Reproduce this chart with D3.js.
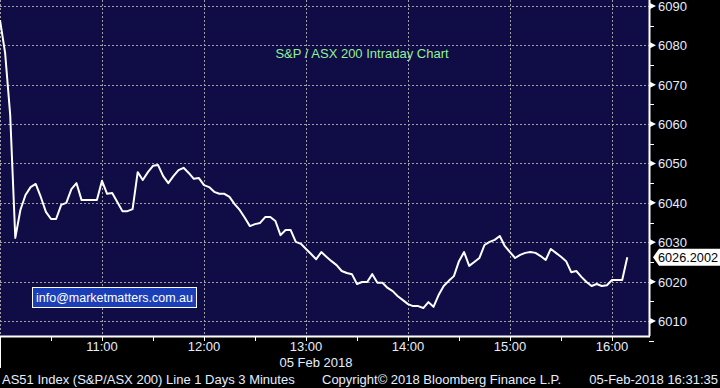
<!DOCTYPE html>
<head>
  <meta charset="utf-8">
  <script src="https://d3js.org/d3.v7.min.js"></script>
  <style>
    body { margin: 0; background: #000; }
    text { font-family: "Liberation Sans", Arial, sans-serif; }
    .grid line { stroke: #a09ea0; stroke-width: 1px; stroke-dasharray: 2,2; }
  </style>
</head>

<body>
  <script>
    // AS51 intraday, 3 minute bars from 10:00
    var startTime = "10:00";
    var intervalMinutes = 3;
    var prices = [
      6086.4, 6078.1, 6062.3, 6031.1, 6038.2, 6042.0, 6044.0, 6044.8, 6041.5, 6037.7,
      6035.9, 6035.9, 6039.5, 6040.0, 6043.5, 6045.0, 6040.7, 6040.7, 6040.7, 6040.7,
      6045.6, 6042.3, 6042.5, 6040.2, 6037.9, 6037.9, 6038.4, 6047.8, 6045.8, 6047.8,
      6049.4, 6049.6, 6046.8, 6045.0, 6046.8, 6048.3, 6048.9, 6047.6, 6046.1, 6046.3,
      6044.5, 6044.0, 6042.8, 6042.3, 6042.3, 6041.5, 6039.7, 6038.2, 6036.2, 6034.1,
      6034.6, 6034.9, 6036.4, 6036.4, 6035.4, 6031.8, 6033.1, 6033.1, 6030.1, 6029.6,
      6028.3, 6027.0, 6025.7, 6027.5, 6026.3, 6025.2, 6024.2, 6022.7, 6022.2, 6021.9,
      6019.4, 6019.9, 6019.9, 6021.9, 6019.7, 6019.7, 6018.4, 6017.6, 6016.3, 6015.3,
      6014.3, 6013.8, 6013.8, 6013.3, 6014.8, 6013.6, 6016.6, 6018.9, 6020.2, 6021.4,
      6025.2, 6027.5, 6024.0, 6025.0, 6026.0, 6029.3, 6030.1, 6030.6, 6031.6, 6029.0,
      6027.5, 6026.0, 6026.8, 6027.3, 6027.5, 6027.3, 6026.5, 6025.5, 6028.3, 6027.3,
      6026.3, 6025.2, 6022.4, 6022.7, 6021.2, 6019.9, 6018.9, 6019.4, 6018.9, 6019.1,
      6020.4, 6020.4, 6020.4, 6026.2002
    ];
    var lastValue = "6026.2002";
    var yTicks = [6010, 6020, 6030, 6040, 6050, 6060, 6070, 6080, 6090];
    var xTickLabels = ["11:00", "12:00", "13:00", "14:00", "15:00", "16:00"];
    var title = "S&P / ASX 200 Intraday Chart";
    var dateLabel = "05 Feb 2018";
    var legendText = "info@marketmatters.com.au";
    var footer = ["AS51 Index (S&P/ASX 200) Line 1 Days 3 Minutes",
                  "Copyright\u00a9 2018 Bloomberg Finance L.P.",
                  "05-Feb-2018 16:31:35"];

    var W = 720, H = 388;
    var plotW = 649, plotH = 336;

    var svg = d3.select("body").append("svg")
      .attr("width", W)
      .attr("height", H);

    var parseTime = d3.timeParse("%H:%M");
    var t0 = parseTime(startTime);
    var data = prices.map(function(v, i) {
      return { date: d3.timeMinute.offset(t0, i * intervalMinutes), value: v };
    });

    var x = d3.scaleTime()
      .domain([t0, d3.timeSecond.offset(t0, 6 * 3600 + 21 * 60 + 46)])
      .range([0, plotW]);

    var y = d3.scaleLinear()
      .domain([6006.2, 6091.5])
      .range([plotH, 0]);

    svg.append("rect")
      .attr("width", plotW).attr("height", plotH)
      .attr("fill", "#0f0c46");

    var hourTicks = xTickLabels.map(parseTime);
    var halfTicks = d3.timeMinute.every(30).range(t0, x.domain()[1]);

    // grid
    var grid = svg.append("g").attr("class", "grid");
    grid.selectAll(".hg").data(yTicks).enter().append("line")
      .attr("x1", 0).attr("x2", plotW)
      .attr("y1", function(d) { return Math.round(y(d)) + 0.5; })
      .attr("y2", function(d) { return Math.round(y(d)) + 0.5; });
    grid.selectAll(".vg").data([t0].concat(hourTicks)).enter().append("line")
      .attr("y1", 0).attr("y2", plotH)
      .attr("x1", function(d) { return Math.round(x(d)) + 0.5; })
      .attr("x2", function(d) { return Math.round(x(d)) + 0.5; });

    // title
    svg.append("text")
      .attr("x", 362).attr("y", 58)
      .attr("text-anchor", "middle")
      .attr("fill", "#94f294")
      .style("font-size", "13px")
      .text(title);

    // price line
    var line = d3.line()
      .x(function(d) { return x(d.date); })
      .y(function(d) { return y(d.value); });

    svg.append("path").datum(data)
      .attr("fill", "none")
      .attr("stroke", "#ffffff")
      .attr("stroke-width", 2)
      .attr("stroke-linejoin", "round")
      .attr("d", line);

    // legend box
    svg.append("rect")
      .attr("x", 32.5).attr("y", 287.5)
      .attr("width", 164).attr("height", 20)
      .attr("fill", "#1b3fb8")
      .attr("stroke", "#ffffff").attr("stroke-width", 1);
    svg.append("text")
      .attr("x", 36).attr("y", 302)
      .attr("fill", "#ffffff")
      .style("font-size", "12.5px")
      .attr("textLength", 157)
      .attr("lengthAdjust", "spacingAndGlyphs")
      .text(legendText);

    // right axis
    var ya = svg.append("g");
    ya.append("line")
      .attr("x1", plotW + 0.5).attr("x2", plotW + 0.5)
      .attr("y1", 0).attr("y2", plotH)
      .attr("stroke", "#fff").attr("stroke-width", 2);
    var minor = d3.range(6005, 6095, 10);
    ya.selectAll(".mt").data(minor).enter().append("line")
      .attr("x1", plotW).attr("x2", plotW + 5)
      .attr("y1", function(d) { return Math.round(y(d)) + 0.5; })
      .attr("y2", function(d) { return Math.round(y(d)) + 0.5; })
      .attr("stroke", "#fff");
    ya.selectAll(".tri").data(yTicks).enter().append("path")
      .attr("d", function(d) {
        var yy = y(d);
        return "M" + plotW + "," + (yy - 3.5) + "L" + (plotW + 7) + "," + yy + "L" + plotW + "," + (yy + 3.5) + "Z";
      })
      .attr("fill", "#fff");
    ya.selectAll(".yl").data(yTicks).enter().append("text")
      .attr("x", 658)
      .attr("y", function(d) { return y(d) + 5; })
      .attr("fill", "#e6eeff")
      .style("font-size", "13px")
      .text(function(d) { return d; });

    // last value badge
    var ly = y(+lastValue);
    svg.append("path")
      .attr("d", "M653," + ly + "L659," + (ly - 8.5) + "L720," + (ly - 8.5) + "L720," + (ly + 8.5) + "L659," + (ly + 8.5) + "Z")
      .attr("fill", "#ffffff");
    svg.append("text")
      .attr("x", 658).attr("y", ly + 5)
      .attr("fill", "#000")
      .style("font-size", "13px")
      .attr("textLength", 60)
      .attr("lengthAdjust", "spacingAndGlyphs")
      .text(lastValue);

    // bottom axis
    var xa = svg.append("g");
    xa.append("line")
      .attr("x1", 0).attr("x2", plotW + 1)
      .attr("y1", plotH + 0.5).attr("y2", plotH + 0.5)
      .attr("stroke", "#fff").attr("stroke-width", 2);
    xa.append("line")
      .attr("x1", 0.5).attr("x2", 0.5)
      .attr("y1", plotH).attr("y2", 368)
      .attr("stroke", "#fff");
    xa.selectAll(".xt").data(halfTicks).enter().append("line")
      .attr("x1", function(d) { return Math.round(x(d)) + 0.5; })
      .attr("x2", function(d) { return Math.round(x(d)) + 0.5; })
      .attr("y1", plotH).attr("y2", plotH + 5)
      .attr("stroke", "#fff");
    xa.selectAll(".xl").data(hourTicks).enter().append("text")
      .attr("x", function(d) { return x(d); })
      .attr("y", 351)
      .attr("text-anchor", "middle")
      .attr("fill", "#e6eeff")
      .style("font-size", "13px")
      .text(function(d, i) { return xTickLabels[i]; });
    xa.append("text")
      .attr("x", 316).attr("y", 367)
      .attr("text-anchor", "middle")
      .attr("fill", "#e6eeff")
      .style("font-size", "13px")
      .text(dateLabel);

    // footer
    var fx = [2, 322, 718];
    var fa = ["start", "start", "end"];
    svg.selectAll(".ft").data(footer).enter().append("text")
      .attr("x", function(d, i) { return fx[i]; })
      .attr("y", 384)
      .attr("text-anchor", function(d, i) { return fa[i]; })
      .attr("fill", "#e6eeff")
      .style("font-size", "13px")
      .text(function(d) { return d; });
  </script>
</body>
